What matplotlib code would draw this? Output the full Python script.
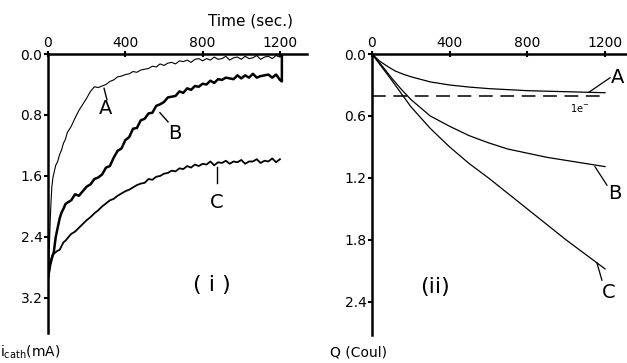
import numpy as np
import matplotlib
matplotlib.use("Agg")
import matplotlib.pyplot as plt

# ---- panel (i): cathodic current vs time ----
t_i = [0, 4, 8, 12, 16, 20, 25, 30, 40, 50, 60, 70, 80, 90, 100,
       120, 140, 160, 180, 200, 220, 240, 260, 280, 300,
       320, 340, 360, 380, 400, 420, 440, 460, 480, 500,
       520, 540, 560, 580, 600, 620, 640, 660, 680, 700,
       720, 740, 760, 780, 800, 820, 840, 860, 880, 900,
       920, 940, 960, 980, 1000, 1020, 1040, 1060, 1080, 1100,
       1120, 1140, 1160, 1180, 1200]

cur_a = [2.95, 2.75, 2.45, 2.15, 1.92, 1.74, 1.63, 1.57, 1.46, 1.41, 1.32, 1.26, 1.17, 1.12, 1.03,
         0.95, 0.84, 0.74, 0.66, 0.58, 0.49, 0.43, 0.44, 0.42, 0.40,
         0.36, 0.34, 0.30, 0.29, 0.27, 0.26, 0.23, 0.24, 0.21, 0.20,
         0.19, 0.16, 0.17, 0.13, 0.15, 0.12, 0.11, 0.13, 0.09, 0.10,
         0.08, 0.11, 0.07, 0.06, 0.09, 0.06, 0.08, 0.04, 0.07, 0.06,
         0.03, 0.08, 0.05, 0.04, 0.07, 0.03, 0.06, 0.05, 0.02, 0.07,
         0.04, 0.03, 0.06, 0.02, 0.04]

cur_b = [2.95, 2.88, 2.82, 2.76, 2.72, 2.68, 2.64, 2.60, 2.40, 2.28, 2.16, 2.08, 2.03, 1.97, 1.95,
         1.92, 1.84, 1.86, 1.80, 1.74, 1.71, 1.64, 1.62, 1.58, 1.49,
         1.47, 1.36, 1.27, 1.24, 1.13, 1.09, 0.98, 0.97, 0.87, 0.85,
         0.78, 0.77, 0.68, 0.66, 0.63, 0.57, 0.56, 0.55, 0.49, 0.51,
         0.45, 0.47, 0.42, 0.43, 0.39, 0.40, 0.35, 0.38, 0.33, 0.34,
         0.31, 0.32, 0.33, 0.28, 0.32, 0.28, 0.31, 0.26, 0.31, 0.29,
         0.28, 0.27, 0.31, 0.27, 0.34]
tail_b_t = [1210, 1210]
tail_b = [0.36, 0.03]

cur_c = [2.95, 2.88, 2.80, 2.74, 2.70, 2.66, 2.63, 2.62, 2.60, 2.58, 2.57, 2.52, 2.47, 2.45, 2.42,
         2.36, 2.33, 2.28, 2.23, 2.18, 2.14, 2.09, 2.05, 2.00, 1.96,
         1.92, 1.90, 1.86, 1.83, 1.80, 1.78, 1.75, 1.72, 1.70, 1.69,
         1.64, 1.65, 1.61, 1.60, 1.57, 1.56, 1.53, 1.54, 1.50, 1.51,
         1.47, 1.49, 1.45, 1.47, 1.44, 1.45, 1.41, 1.46, 1.42, 1.43,
         1.40, 1.44, 1.41, 1.42, 1.39, 1.44, 1.41, 1.41, 1.38, 1.43,
         1.40, 1.41, 1.37, 1.42, 1.38]

# ---- panel (ii): charge vs time ----
t_qa = [0, 40, 80, 120, 160, 200, 300, 400, 500, 600, 800, 1000, 1200]
q_a = [0, 0.07, 0.12, 0.165, 0.195, 0.22, 0.27, 0.30, 0.32, 0.335, 0.355, 0.365, 0.375]
t_qb = [0, 50, 100, 150, 200, 300, 400, 500, 600, 700, 800, 900, 1000, 1100, 1200]
q_b = [0, 0.11, 0.23, 0.34, 0.44, 0.60, 0.70, 0.79, 0.86, 0.92, 0.96, 1.00, 1.03, 1.06, 1.09]
t_qc = [0, 100, 200, 300, 400, 500, 600, 700, 800, 900, 1000, 1100, 1200]
q_c = [0, 0.25, 0.51, 0.72, 0.90, 1.06, 1.20, 1.35, 1.50, 1.65, 1.80, 1.94, 2.08]
one_e = 0.41

x_ticks = [0, 400, 800, 1200]
y_ticks_i = [0.0, 0.8, 1.6, 2.4, 3.2]
y_ticks_ii = [0.0, 0.6, 1.2, 1.8, 2.4]

plt.rcParams['font.family'] = ['DejaVu Sans']

fig = plt.figure(figsize=(6.27, 3.63), dpi=100)
ax1 = fig.add_axes([48 / 627, 1 - 333 / 363, 259 / 627, 279 / 363])
ax2 = fig.add_axes([372 / 627, 1 - 335 / 363, 254 / 627, 281 / 363])


def style(ax, xmax, ymax, yticks):
    ax.set_xlim(0, xmax)
    ax.set_ylim(ymax, 0)
    for s in ["right", "bottom"]:
        ax.spines[s].set_visible(False)
    for s in ["left", "top"]:
        ax.spines[s].set_linewidth(1.8)
    ax.xaxis.tick_top()
    ax.set_xticks(x_ticks)
    ax.set_xticklabels([str(v) for v in x_ticks])
    ax.set_yticks(yticks)
    ax.set_yticklabels([f"{v:.1f}" for v in yticks])
    ax.tick_params(axis="x", direction="inout", length=4, width=1.5, pad=1, labelsize=10)
    ax.tick_params(axis="y", direction="out", length=3, width=1.5, pad=1, labelsize=10)


style(ax1, 1340, 3.66, y_ticks_i)
style(ax2, 1308, 2.72, y_ticks_ii)

# panel (i)
ax1.plot(t_i, cur_a, color="black", lw=0.8)
ax1.plot(t_i + tail_b_t, cur_b + tail_b, color="black", lw=1.8)
ax1.plot(t_i, cur_c, color="black", lw=1.3)

ax1.plot([290, 305], [0.45, 0.60], color="black", lw=1)
ax1.plot([579, 621], [0.77, 0.89], color="black", lw=1)
ax1.plot([874, 874], [1.48, 1.69], color="black", lw=1)
ax1.text(300, 0.71, "A", fontsize=14, ha="center", va="center")
ax1.text(657, 1.04, "B", fontsize=14, ha="center", va="center")
ax1.text(874, 1.95, "C", fontsize=14, ha="center", va="center")
ax1.text(848, 3.03, "( i )", fontsize=16, ha="center", va="center")
ax1.text(0.946, 1.09, "Time (sec.)", transform=ax1.transAxes, fontsize=11,
         ha="right", va="bottom")
fig.text(0.5 / 627, 1 - 352 / 363, r"i$_{\mathrm{cath}}$(mA)", fontsize=10,
         ha="left", va="center")

# panel (ii)
ax2.plot(t_qa, q_a, color="black", lw=0.9)
ax2.plot(t_qb, q_b, color="black", lw=0.9)
ax2.plot(t_qc, q_c, color="black", lw=0.9)
ax2.plot([0, 1200], [one_e, one_e], color="black", lw=1.1, dashes=(9, 5))
ax2.text(1071, 0.52, "1e$^{-}$", fontsize=7, ha="center", va="center")

ax2.plot([1117, 1226], [0.37, 0.23], color="black", lw=0.9, clip_on=False)
ax2.plot([1148, 1210], [1.09, 1.27], color="black", lw=0.9, clip_on=False)
ax2.plot([1158, 1184], [2.02, 2.19], color="black", lw=0.9, clip_on=False)
ax2.text(1265, 0.23, "A", fontsize=14, ha="center", va="center", clip_on=False)
ax2.text(1250, 1.35, "B", fontsize=14, ha="center", va="center", clip_on=False)
ax2.text(1218, 2.31, "C", fontsize=14, ha="center", va="center", clip_on=False)
ax2.text(324, 2.26, "(ii)", fontsize=16, ha="center", va="center")
fig.text(330 / 627, 1 - 352 / 363, "Q (Coul)", fontsize=10, ha="left", va="center")

fig.savefig("out.png", dpi=100)
